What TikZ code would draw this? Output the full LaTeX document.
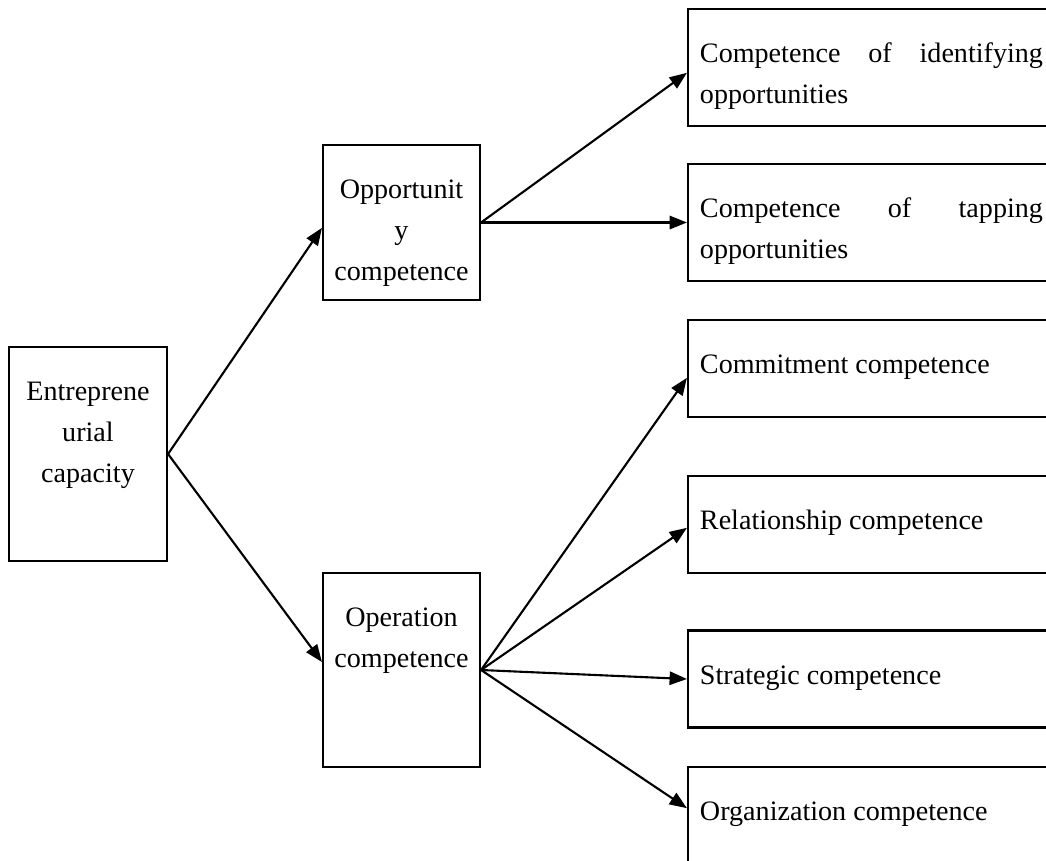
\documentclass[tikz,border=0pt]{standalone}
\usepackage{fontspec}
\setmainfont{Liberation Serif}
\usetikzlibrary{arrows.meta}
\hbadness=10000
\newcommand{\boxtext}[4]{\parbox[c][#2][t]{#1}{#3\vspace*{10.7pt}\strut #4}}

\tikzset{
	midbox/.style={draw, line width=0.9pt, inner sep=0pt, font=\fontsize{12}{17.5}\selectfont},
	leafbox/.style={midbox, inner xsep=0.18cm},
	link/.style={line width=0.9pt, -{Triangle[length=0.26cm,width=0.2cm]}}
}

\begin{document}
\begin{tikzpicture}[x=0.015cm, y=-0.015cm]
	\useasboundingbox (0,0) rectangle (1046,861);
	\clip (0,0) rectangle (1046,861);
	% left and middle
	\node[midbox] (ent) at (88,454) {\boxtext{2.37cm}{3.21cm}{\centering}{Entreprene\\urial\\capacity}};
	\node[midbox] (opp) at (401.5,222.5) {\boxtext{2.355cm}{2.325cm}{\centering}{Opportunit\\y\\competence}};
	\node[midbox] (ope) at (401.5,670) {\boxtext{2.355cm}{2.91cm}{\centering}{Operation\\competence}};
	% right
	\node[leafbox] (idf) at (871.5,67.5) {\boxtext{5.145cm}{1.755cm}{}{Competence of identifying\linebreak opportunities}};
	\node[leafbox] (tap) at (871.5,222.5) {\boxtext{5.145cm}{1.755cm}{}{Competence of tapping\linebreak opportunities}};
	\node[leafbox] (com) at (871.5,368.5) {\boxtext{5.145cm}{1.455cm}{}{Commitment competence}};
	\node[leafbox] (rel) at (871.5,524.5) {\boxtext{5.145cm}{1.455cm}{}{Relationship competence}};
	\node[leafbox] (stg) at (871.5,679) {\boxtext{5.145cm}{1.455cm}{}{Strategic competence}};
	\node[leafbox] (org) at (871.5,815.5) {\boxtext{5.145cm}{1.455cm}{}{Organization competence}};

	% ent
	\draw[link] (ent.east) -- ([yshift=-0.08cm]opp.west);
	\draw[link] (ent.east) -- ([yshift=0.12cm]ope.west);
	% opp
	\draw[link] (opp.east) -- ([yshift=-0.08cm]idf.west);
	\draw[link] (opp.east) -- (tap.west);
	% ope
	\draw[link] (ope.east) -- ([yshift=-0.14cm]com.west);
	\draw[link] (ope.east) -- ([yshift=-0.05cm]rel.west);
	\draw[link] (ope.east) -- (stg.west);
	\draw[link] (ope.east) -- ([yshift=0.11cm]org.west);
\end{tikzpicture}
\end{document}
